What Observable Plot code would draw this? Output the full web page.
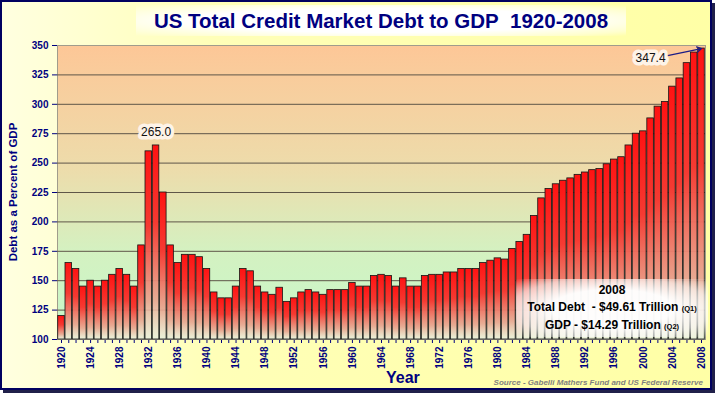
<!DOCTYPE html>
<html>
<head>
<meta charset="utf-8">
<script src="https://cdn.jsdelivr.net/npm/d3@7"></script>
<script src="https://cdn.jsdelivr.net/npm/@observablehq/plot@0.6"></script>
<style>
html, body { margin: 0; padding: 0; background: #ffffff; }
#wrap { position: relative; width: 715px; height: 394px; overflow: hidden; font-family: Arial, "Liberation Sans", sans-serif; }
#bgbox { position: absolute; left: 0; top: 0; width: 708px; height: 386px; border: 2px solid #000060;
  background: linear-gradient(90deg, #ffffe0 0%, #ffffb8 30%, #ffffa6 100%);
  box-shadow: 3px 3px 0 #20204a; }
#chart { position: absolute; left: 0; top: 0; }
.ov { position: absolute; white-space: nowrap; color: #000080; font-weight: bold; }
#title { left: 136px; top: 5px; width: 490px; height: 31px; line-height: 31px; text-align: center; font-size: 20.5px;
  background: radial-gradient(ellipse at center, rgba(255,255,255,1) 55%, rgba(255,255,230,0.6) 85%, rgba(255,255,200,0) 100%); }
#ytitle { left: 13px; top: 192px; font-size: 11.5px; transform: translate(-50%, -50%) rotate(-90deg); }
#xtitle { left: 386px; top: 369px; font-size: 16px; }
#source { right: 12px; top: 378px; font-size: 8px; font-style: italic; color: #7f7f7f; }
#note { left: 516px; top: 279px; width: 192px; height: 58px; color: #000; text-align: center; font-size: 12px; line-height: 16.5px;
  background: radial-gradient(ellipse at center, rgba(255,255,255,0.97) 45%, rgba(255,255,255,0.6) 75%, rgba(255,255,255,0) 100%); }
#note .yr { padding-top: 3px; font-size: 12px; }
#note small { font-size: 7.5px; }
</style>
</head>
<body>
<svg width="0" height="0" style="position:absolute">
  <defs>
    <linearGradient id="plotBg" x1="0" y1="0" x2="0" y2="1">
      <stop offset="0" stop-color="#fdc797"/>
      <stop offset="0.42" stop-color="#eddcab"/>
      <stop offset="0.7" stop-color="#d4f1c1"/>
      <stop offset="1" stop-color="#c6f8ca"/>
    </linearGradient>
    <linearGradient id="barGrad" x1="0" y1="0" x2="0" y2="1">
      <stop offset="0" stop-color="#ff1212"/>
      <stop offset="0.4" stop-color="#f53a32"/>
      <stop offset="0.8" stop-color="#eaa690" stop-opacity="0.92"/>
      <stop offset="1" stop-color="#f7f1de" stop-opacity="0.75"/>
    </linearGradient>
  </defs>
</svg>
<div id="wrap">
  <div id="bgbox"></div>
  <div id="chart"></div>
  <div class="ov" id="title">US Total Credit Market Debt to GDP&nbsp;&nbsp;1920-2008</div>
  <div class="ov" id="ytitle">Debt as a Percent of GDP</div>
  <div class="ov" id="xtitle">Year</div>
  <div class="ov" id="source">Source - Gabelli Mathers Fund and US Federal Reserve</div>
  <div class="ov" id="note">
    <div class="yr">2008</div>
    <div>Total Debt&nbsp;&nbsp;- $49.61 Trillion <small>(Q1)</small></div>
    <div>GDP - $14.29 Trillion <small>(Q2)</small></div>
  </div>
</div>
<script>
const years = [
  1920,1921,1922,1923,1924,1925,1926,1927,1928,1929,
  1930,1931,1932,1933,1934,1935,1936,1937,1938,1939,
  1940,1941,1942,1943,1944,1945,1946,1947,1948,1949,
  1950,1951,1952,1953,1954,1955,1956,1957,1958,1959,
  1960,1961,1962,1963,1964,1965,1966,1967,1968,1969,
  1970,1971,1972,1973,1974,1975,1976,1977,1978,1979,
  1980,1981,1982,1983,1984,1985,1986,1987,1988,1989,
  1990,1991,1992,1993,1994,1995,1996,1997,1998,1999,
  2000,2001,2002,2003,2004,2005,2006,2007,2008
];
const debtToGdp = [
  120,165,160,145,150,145,150,155,160,155,
  145,180,260,265,225,180,165,172,172,170,
  160,140,135,135,145,160,158,145,140,138,
  144,132,135,140,142,140,138,142,142,142,
  148,145,145,154,155,154,145,152,145,145,
  154,155,155,157,157,160,160,160,165,167,
  169,168,177,183,189,205,220,228,232,235,
  237,240,242,244,245,249,253,255,265,275,
  277,288,298,302,315,322,335,344,347.4
];
const yTicks = [100,125,150,175,200,225,250,275,300,325,350];
const yGrid = [125,150,175,200,225,250,275,300,325];
const xTickLabels = [1920,1924,1928,1932,1936,1940,1944,1948,1952,1956,1960,1964,1968,1972,1976,1980,1984,1988,1992,1996,2000,2004,2008];
const peakLabel = [{year: 1933, value: 265, label: "265.0"}];
const endLabel = [{year: 2001, value: 339, label: "347.4"}];
const endArrow = [{fromYear: 2003, fromValue: 341, toYear: 2008, toValue: 347.4}];

const rows = years.map((year, i) => ({year, value: debtToGdp[i]}));

const navy = "#000080";
const chart = Plot.plot({
  width: 715,
  height: 394,
  marginLeft: 57,
  marginRight: 10,
  marginTop: 45,
  marginBottom: 55,
  style: {background: "transparent", fontFamily: "Arial, 'Liberation Sans', sans-serif", overflow: "visible",
          color: navy, fontWeight: "bold"},
  x: {type: "band", domain: years, padding: 0.1, round: false, label: null, tickSize: 4, tickPadding: 3, tickRotate: -90,
      tickFormat: d => xTickLabels.includes(d) ? String(d) : ""},
  y: {domain: [100, 350], ticks: yTicks, tickSize: 5, tickPadding: 4, label: null},
  marks: [
    Plot.frame({fill: "url(#plotBg)", stroke: "#a09c8c"}),
    Plot.ruleY(yGrid, {stroke: "#5e5648", strokeWidth: 1}),
    Plot.barY(rows, {x: "year", y1: 100, y2: "value", fill: "url(#barGrad)", stroke: "#141414", strokeWidth: 0.8}),
    Plot.text(peakLabel, {x: "year", y: "value", text: "label", dy: -13, fontSize: 12, fontWeight: "normal", fill: "#111",
      stroke: "#fdf3e8", strokeWidth: 7, strokeLinejoin: "round", paintOrder: "stroke"}),
    Plot.arrow(endArrow, {x1: "fromYear", y1: "fromValue", x2: "toYear", y2: "toValue", stroke: "#1c1c86", strokeWidth: 1.3, headLength: 6}),
    Plot.text(endLabel, {x: "year", y: "value", text: "label", fontSize: 12, fontWeight: "normal", fill: "#111",
      stroke: "#fdf3e8", strokeWidth: 7, strokeLinejoin: "round", paintOrder: "stroke"})
  ]
});
const svg = d3.select(chart);
svg.selectAll(".tick line").attr("stroke", "#444");
svg.selectAll(".tick text").each(function () {
  const isX = (this.getAttribute("transform") || "").includes("rotate");
  this.setAttribute("font-size", isX ? 10 : 11);
  this.setAttribute("fill", navy);
  this.setAttribute("font-weight", "bold");
});
document.getElementById("chart").appendChild(chart);
</script>
</body>
</html>
